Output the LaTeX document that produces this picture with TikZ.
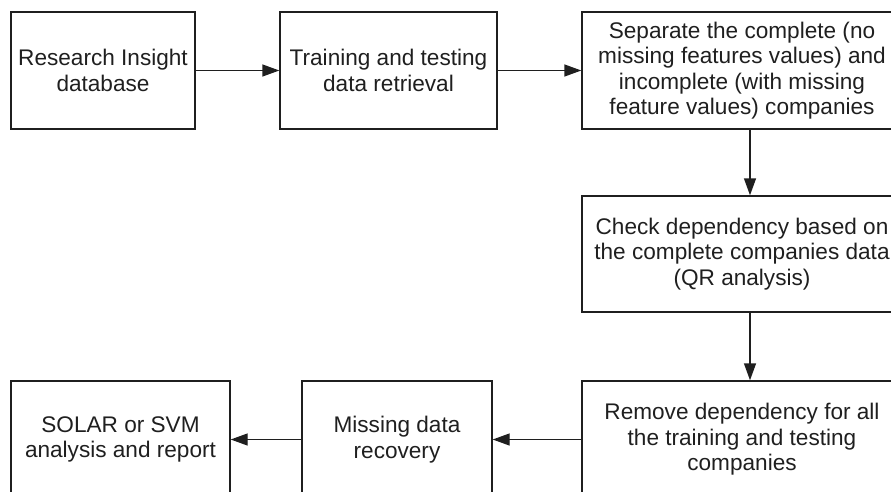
\documentclass[tikz,border=0pt]{standalone}
\usepackage{fontspec}
\setmainfont{Liberation Sans}
\usetikzlibrary{arrows.meta}
\begin{document}
\begin{tikzpicture}[x=1pt,y=-1pt,
  box/.style={draw=black!88,line width=1.4pt,inner sep=0pt,align=center,
    font=\fontsize{22.6}{25.5}\selectfont,text=black!88},
  conn/.style={draw=black!88,line width=1.4pt,-{Triangle[length=17pt,width=12pt]}}]
\useasboundingbox (0,0) rectangle (891,492);
\node[box,minimum width=184pt,minimum height=117pt] (b1) at (103,70.5) {Research Insight\\database};
\node[box,minimum width=217pt,minimum height=117pt] (b2) at (388.5,70.5) {Training and testing\\data retrieval};
\node[box,minimum width=320pt,minimum height=117pt] (b3) at (742,70.5) {Separate the complete (no\\missing features values) and\\incomplete (with missing\\feature values) companies};
\node[box,minimum width=320pt,minimum height=116pt] (b4) at (742,254) {Check dependency based on\\the complete companies data\\(QR analysis)};
\node[box,minimum width=320pt,minimum height=117pt] (b5) at (742,439.5) {Remove dependency for all\\the training and testing\\companies};
\node[box,minimum width=190pt,minimum height=117pt] (b6) at (397,439.5) {Missing data\\recovery};
\node[box,minimum width=219pt,minimum height=117pt] (b7) at (120.5,439.5) {SOLAR or SVM\\analysis and report};
\draw[conn] (b1) -- (b2);
\draw[conn] (b2) -- (b3);
\draw[conn] ([xshift=8pt]b3.south) -- ([xshift=8pt]b4.north);
\draw[conn] ([xshift=8pt]b4.south) -- ([xshift=8pt]b5.north);
\draw[conn] (b5) -- (b6);
\draw[conn] (b6) -- (b7);
\end{tikzpicture}
\end{document}
